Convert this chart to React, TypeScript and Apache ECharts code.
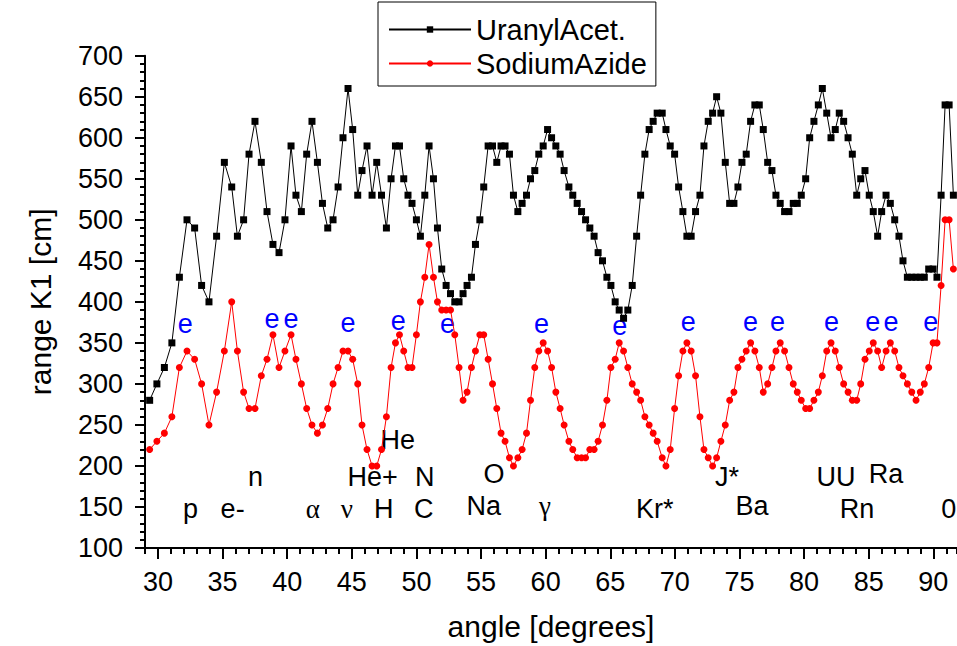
import React, { useEffect, useRef } from "react";
import * as echarts from "echarts";

const ANGLE = [
  29.36, 29.92, 30.5, 31.08, 31.66, 32.25, 32.84, 33.38, 33.95, 34.54,
  35.14, 35.71, 36.15, 36.63, 37.05, 37.51, 38.0, 38.44, 38.9, 39.37,
  39.83, 40.3, 40.68, 41.1, 41.51, 41.92, 42.34, 42.73, 43.14, 43.55,
  43.94, 44.32, 44.71, 45.07, 45.46, 45.79, 46.18, 46.57, 46.93, 47.3,
  47.68, 48.04, 48.38, 48.69, 49.02, 49.35, 49.66, 50.0, 50.31, 50.65,
  50.98, 51.32, 51.63, 51.96, 52.3, 52.64, 52.97, 53.3, 53.61, 53.92,
  54.26, 54.57, 54.91, 55.21, 55.55, 55.89, 56.22, 56.55, 56.86, 57.2,
  57.51, 57.85, 58.18, 58.52, 58.83, 59.16, 59.47, 59.81, 60.15, 60.46,
  60.79, 61.12, 61.43, 61.8, 62.1, 62.44, 62.78, 63.09, 63.42, 63.75,
  64.06, 64.4, 64.74, 65.05, 65.38, 65.69, 66.03, 66.36, 66.7, 67.04,
  67.35, 67.68, 68.01, 68.32, 68.63, 69.02, 69.31, 69.64, 69.98, 70.29,
  70.62, 70.93, 71.26, 71.6, 71.94, 72.25, 72.58, 72.92, 73.23, 73.56,
  73.9, 74.24, 74.57, 74.88, 75.19, 75.52, 75.86, 76.19, 76.53, 76.84,
  77.18, 77.51, 77.82, 78.15, 78.49, 78.83, 79.16, 79.47, 79.78, 80.12,
  80.43, 80.76, 81.1, 81.41, 81.75, 82.08, 82.41, 82.72, 83.06, 83.4,
  83.73, 84.07, 84.38, 84.71, 85.04, 85.35, 85.69, 86.0, 86.34, 86.67,
  87.01, 87.34, 87.65, 87.99, 88.33, 88.66, 88.99, 89.3, 89.64, 89.98,
  90.28, 90.6, 90.91, 91.22, 91.55,
];

const URANYL = [
  280, 300, 320, 350, 430, 500, 490, 420, 400, 480,
  570, 540, 480, 500, 580, 620, 570, 510, 470, 460,
  500, 590, 530, 510, 580, 620, 570, 520, 490, 500,
  540, 600, 660, 610, 530, 560, 590, 530, 570, 530,
  490, 550, 590, 590, 550, 530, 520, 500, 480, 530,
  590, 550, 490, 440, 420, 410, 400, 400, 410, 420,
  430, 470, 500, 540, 590, 590, 570, 590, 590, 580,
  530, 510, 520, 530, 550, 560, 580, 590, 610, 600,
  590, 580, 560, 540, 530, 520, 510, 500, 490, 480,
  460, 450, 430, 420, 400, 390, 380, 390, 420, 480,
  530, 580, 610, 620, 630, 630, 610, 590, 580, 540,
  510, 480, 480, 510, 530, 590, 620, 630, 650, 630,
  570, 520, 520, 540, 570, 580, 620, 640, 640, 610,
  570, 560, 530, 520, 510, 510, 520, 520, 530, 550,
  600, 620, 640, 660, 630, 600, 610, 630, 620, 600,
  580, 530, 550, 560, 530, 510, 480, 510, 530, 520,
  500, 480, 450, 430, 430, 430, 430, 430, 440, 440,
  430, 530, 640, 640, 530,
];

const AZIDE = [
  220, 230, 240, 260, 320, 340, 330, 300, 250, 290,
  340, 400, 340, 290, 270, 270, 310, 330, 360, 320,
  340, 360, 330, 300, 270, 250, 240, 250, 270, 300,
  320, 340, 340, 330, 300, 250, 220, 200, 200, 220,
  260, 320, 350, 360, 340, 320, 320, 360, 400, 430,
  470, 430, 400, 390, 390, 390, 360, 320, 280, 290,
  320, 340, 360, 360, 330, 300, 270, 240, 230, 210,
  200, 210, 220, 240, 280, 320, 340, 350, 340, 320,
  290, 270, 250, 230, 220, 210, 210, 210, 220, 220,
  230, 250, 280, 320, 330, 350, 340, 320, 300, 290,
  280, 260, 250, 240, 230, 210, 200, 220, 270, 310,
  340, 350, 340, 310, 260, 220, 210, 200, 210, 230,
  250, 280, 290, 320, 330, 340, 350, 340, 320, 290,
  300, 320, 340, 350, 340, 320, 300, 290, 280, 270,
  270, 280, 290, 310, 340, 350, 340, 320, 300, 290,
  280, 280, 300, 330, 340, 350, 340, 320, 340, 350,
  340, 320, 310, 300, 290, 280, 290, 300, 320, 350,
  350, 420, 500, 500, 440,
];

const E_X = [32.12, 38.83, 40.3, 44.71, 48.6, 52.4, 59.68, 65.74, 71.03, 75.86, 77.95, 82.13, 85.31, 86.72, 89.8];
const E_Y = [373, 379, 379, 374, 377, 373, 373, 371, 375, 376, 376, 375, 375, 375, 375];

const NOTE_TEXT = ["p", "e-", "n", "α", "ν", "He", "He+", "H", "N", "C", "O", "Na", "γ", "Kr*", "J*", "Ba", "UU", "Ra", "Rn", "0"];
const NOTE_X = [32.53, 35.78, 37.56, 41.98, 44.61, 48.56, 46.62, 47.47, 50.64, 50.57, 56.0, 55.22, 59.94, 68.45, 74.03, 75.96, 82.46, 86.33, 84.09, 91.2];
const NOTE_Y = [148, 148, 187, 148, 148, 232, 187, 148, 187, 148, 190, 151, 151, 148, 187, 151, 187, 190, 148, 148];

const MAJOR_X = [30, 35, 40, 45, 50, 55, 60, 65, 70, 75, 80, 85, 90];

const SANS = "'Liberation Sans', Arial, sans-serif";
const SERIF = "'Liberation Serif', 'Times New Roman', serif";
const FS = 27;
const TITLE_FS = 30;
const LEGEND_FS = 29;

export default function App() {
  const ref = useRef<HTMLDivElement>(null);
  useEffect(() => {
    if (!ref.current) return;
    const chart = echarts.init(ref.current, null, { renderer: "svg" });
    const uranyl = ANGLE.map((a, i) => [a, URANYL[i]]);
    const azide = ANGLE.map((a, i) => [a, AZIDE[i]]);
    const eData = E_X.map((x, i) => ({ value: [x, E_Y[i]], name: "e" }));
    const noteData = NOTE_X.map((x, i) => ({
      value: [x, NOTE_Y[i]],
      name: NOTE_TEXT[i],
      label: { fontFamily: /[α-ω]/.test(NOTE_TEXT[i]) ? SERIF : SANS },
    }));
    const xMin = 29;
    const xMax = 91.83;
    chart.setOption({
      animation: false,
      textStyle: { fontFamily: SANS },
      grid: { left: 145, right: 0, top: 55.7, bottom: 96, containLabel: false },
      legend: {
        data: ["UranylAcet.", "SodiumAzide"],
        orient: "vertical",
        left: 378,
        top: 2,
        padding: [13, 9, 8, 10],
        itemGap: 5,
        itemWidth: 82,
        itemHeight: 8,
        itemTextGap: 17,
        borderColor: "#000",
        borderWidth: 1,
        textStyle: { fontSize: LEGEND_FS, lineHeight: 29, color: "#000", fontFamily: SANS },
      },
      xAxis: [
        {
          type: "value",
          min: xMin,
          max: xMax,
          interval: 1,
          name: "angle [degrees]",
          nameLocation: "middle",
          nameGap: 63,
          nameTextStyle: { fontSize: TITLE_FS, color: "#000", fontFamily: SANS },
          axisLine: { show: true, lineStyle: { color: "#000", width: 2 } },
          axisTick: { show: true, inside: false, length: 11, lineStyle: { color: "#000", width: 2 }, customValues: MAJOR_X },
          axisLabel: { show: true, fontSize: FS, color: "#000", margin: 20, customValues: MAJOR_X, fontFamily: SANS },
          splitLine: { show: false },
        },
        {
          type: "value",
          min: xMin,
          max: xMax,
          interval: 1,
          position: "bottom",
          axisLine: { show: false },
          axisTick: { show: true, inside: false, length: 6, lineStyle: { color: "#000", width: 2 } },
          axisLabel: { show: false },
          splitLine: { show: false },
        },
      ],
      yAxis: {
        type: "value",
        min: 100,
        max: 700,
        interval: 50,
        name: "range K1 [cm]",
        nameLocation: "middle",
        nameGap: 90,
        nameTextStyle: { fontSize: TITLE_FS, color: "#000", fontFamily: SANS },
        axisLine: { show: true, lineStyle: { color: "#000", width: 2 } },
        axisTick: { show: true, inside: false, length: 10, lineStyle: { color: "#000", width: 2 } },
        minorTick: { show: true, splitNumber: 5, length: 5, lineStyle: { color: "#000", width: 2 } },
        axisLabel: { fontSize: FS, color: "#000", margin: 22, fontFamily: SANS },
        splitLine: { show: false },
      },
      series: [
        {
          name: "notes",
          type: "scatter",
          data: noteData,
          symbolSize: 0,
          silent: true,
          z: 1,
          itemStyle: { opacity: 1 },
          label: { show: true, position: "inside", formatter: "{b}", color: "#000", fontSize: FS, opacity: 1 },
        },
        {
          name: "e",
          type: "scatter",
          data: eData,
          symbolSize: 0,
          silent: true,
          z: 1,
          itemStyle: { opacity: 1 },
          label: { show: true, position: "inside", formatter: "{b}", color: "#0000ff", fontSize: FS, fontFamily: SANS, opacity: 1 },
        },
        {
          name: "UranylAcet.",
          type: "line",
          data: uranyl,
          symbol: "rect",
          symbolSize: 7,
          showAllSymbol: true,
          z: 3,
          itemStyle: { color: "#000" },
          lineStyle: { color: "#000", width: 1 },
        },
        {
          name: "SodiumAzide",
          type: "line",
          data: azide,
          symbol: "circle",
          symbolSize: 7,
          showAllSymbol: true,
          z: 4,
          itemStyle: { color: "#ff0000" },
          lineStyle: { color: "#ff0000", width: 1 },
        },
      ],
    });
    return () => chart.dispose();
  }, []);
  return <div ref={ref} style={{ position: "fixed", left: 0, top: 0, width: 957, height: 646, background: "#fff" }} />;
}
